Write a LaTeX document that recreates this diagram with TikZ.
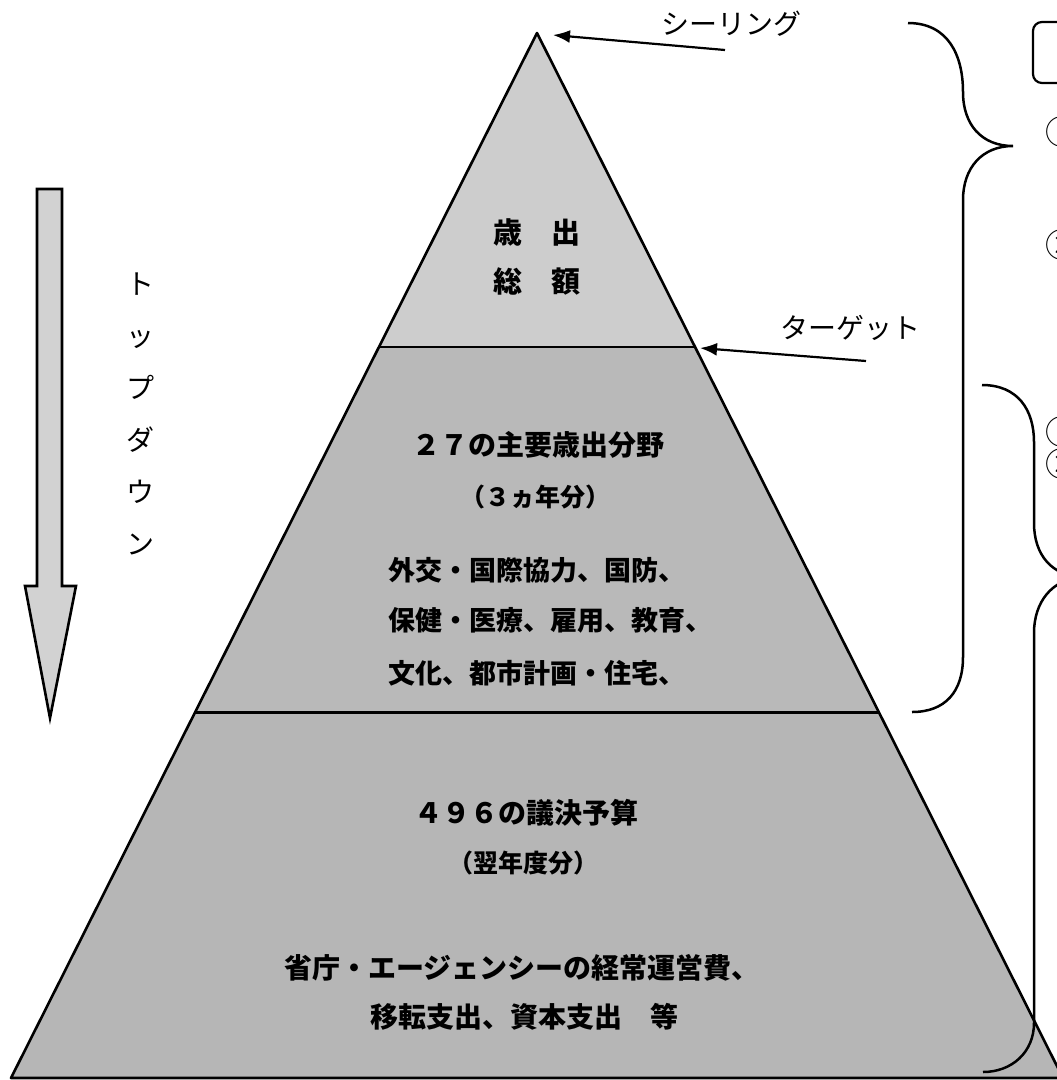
\documentclass[tikz,border=0pt]{standalone}
\usepackage{fontspec}
\usetikzlibrary{arrows.meta,calc}
\newfontfamily\jp{Noto Sans CJK JP}
\definecolor{topfill}{HTML}{CDCDCD}
\definecolor{midfill}{HTML}{B9B9B9}
\definecolor{botfill}{HTML}{B6B6B6}
\definecolor{arrowfill}{HTML}{D2D2D2}
\tikzset{
  edge/.style={line width=2.6pt, line join=round},
  lbl/.style={inner sep=0pt, font=\jp\fontsize{28}{32}\selectfont},
  pyrtxt/.style={inner sep=0pt, font=\jp\bfseries\fontsize{28}{34}\selectfont},
  pyrsmall/.style={inner sep=0pt, font=\jp\bfseries\fontsize{25}{30}\selectfont},
  brace/.style={line width=2.5pt},
  pointer/.style={line width=2.2pt, -{Latex[length=17pt,width=13pt]}},
  circnum/.style={inner sep=0pt, anchor=west, font=\jp\fontsize{33}{36}\selectfont},
}
\begin{document}
\begin{tikzpicture}[x=1pt,y=-1pt]
\useasboundingbox (0,0) rectangle (1057,1080);
\clip (0,0) rectangle (1057,1080);
% pyramid corners
\coordinate (apex) at (537,33);
\coordinate (bl) at (11,1078);
\coordinate (br) at (1063,1078);
\coordinate (l1) at ($(apex)!0.3005!(bl)$);
\coordinate (r1) at ($(apex)!0.3005!(br)$);
\coordinate (l2) at ($(apex)!0.6502!(bl)$);
\coordinate (r2) at ($(apex)!0.6502!(br)$);
\fill[topfill] (apex) -- (l1) -- (r1) -- cycle;
\fill[midfill] (l1) -- (l2) -- (r2) -- (r1) -- cycle;
\fill[botfill] (l2) -- (bl) -- (br) -- (r2) -- cycle;
\draw[edge] (bl) -- (apex) -- (br) -- cycle;
\draw[edge] (l1) -- (r1);
\draw[edge] (l2) -- (r2);

% left arrow (top-down)
\draw[line width=2.6pt, fill=arrowfill, line join=miter]
  (37,189) -- (62,189) -- (62,586) -- (76,586) -- (50,718) -- (25,586) -- (37,586) -- cycle;
\node[lbl, align=center, font=\jp\fontsize{28}{52}\selectfont] (topdown) at (140,414)
  {ト\\ッ\\プ\\ダ\\ウ\\ン};

% ceiling and target labels
\node[lbl] (ceiling) at (731,24) {シーリング};
\coordinate (ceilfrom) at (725,50);
\coordinate (ceiltip) at (553,35);
\draw[pointer] (ceilfrom) -- (ceiltip);
\node[lbl] (target) at (850,328) {ターゲット};
\coordinate (tgtfrom) at (866,361);
\coordinate (tgttip) at (700,348);
\draw[pointer] (tgtfrom) -- (tgttip);

% pyramid texts
\node[pyrtxt, align=center, font=\jp\bfseries\fontsize{29}{49}\selectfont] (total) at (537,257) {歳　出\\総　額};
\node[pyrtxt] (sectors) at (538,445) {２７の主要歳出分野};
\node[pyrsmall] (threeyr) at (535,497) {（３ヵ年分）};
\node[pyrtxt, anchor=west, font=\jp\bfseries\fontsize{27}{32}\selectfont] (s1) at (388,570) {外交・国際協力、国防、};
\node[pyrtxt, anchor=west, font=\jp\bfseries\fontsize{27}{32}\selectfont] (s2) at (388,620) {保健・医療、雇用、教育、};
\node[pyrtxt, anchor=west, font=\jp\bfseries\fontsize{27}{32}\selectfont] (s3) at (388,673) {文化、都市計画・住宅、};
\node[pyrtxt] (votes) at (526,813) {４９６の議決予算};
\node[pyrsmall] (nextyr) at (523,863) {（翌年度分）};
\node[pyrtxt] (b1) at (522,968) {省庁・エージェンシーの経常運営費、};
\node[pyrtxt] (b2) at (524,1017) {移転支出、資本支出　等};

% braces
\draw[brace] (908,23) .. controls (948,23) and (963,55) .. (963,92)
  .. controls (963,125) and (982,146) .. (1013,146)
  .. controls (982,146) and (963,168) .. (963,200)
  -- (963,657) .. controls (963,692) and (945,712) .. (912,712);
\draw[brace] (982,385) .. controls (1018,385) and (1034,410) .. (1034,442)
  -- (1034,523) .. controls (1034,555) and (1052,576) .. (1082,577)
  .. controls (1052,579) and (1034,602) .. (1034,633)
  -- (1034,1023) .. controls (1034,1052) and (1012,1072) .. (983,1072);

% right-edge box and cut-off markers
\draw[line width=2.2pt, rounded corners=9pt] (1033,22) rectangle (1110,83);
\node[circnum] (m1) at (1045,132) {①};
\node[circnum] (m2) at (1045,245) {②};
\node[circnum] (m3) at (1045,432) {①};
\node[circnum] (m4) at (1045,464) {②};
\end{tikzpicture}
\end{document}
